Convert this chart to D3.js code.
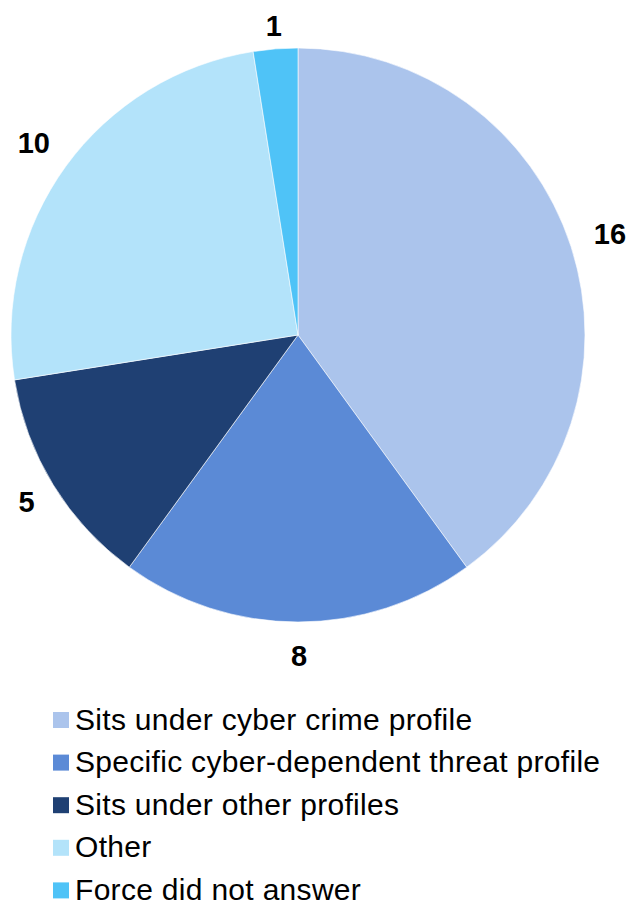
<!DOCTYPE html>
<html lang="en">
<head>
    <meta charset="UTF-8">
    <title>Cyber profile pie</title>
    <script src="https://cdn.jsdelivr.net/npm/d3@7"></script>
    <style>
        body { margin: 0; background: #fff; }
        text { font-family: "Liberation Sans", Arial, sans-serif; fill: #000; }
    </style>
</head>
<body>
    <script>
        const categories = ['Sits under cyber crime profile', 'Specific cyber-dependent threat profile',
            'Sits under other profiles', 'Other', 'Force did not answer'];
        const values = [16, 8, 5, 10, 1];
        const colors = ['#abc4ec', '#5b8ad6', '#1f4073', '#b3e3fa', '#4fc3f7'];

        const width = 630, height = 903;
        const cx = 298, cy = 335, r = 287;
        const data = categories.map((c, i) => ({name: c, value: values[i], color: colors[i]}));

        const svg = d3.select('body').append('svg').attr('width', width).attr('height', height);
        const g = svg.append('g').attr('transform', `translate(${cx},${cy})`);

        const pie = d3.pie().value(d => d.value).sort(null);
        const arcs = pie(data);
        const arc = d3.arc().innerRadius(0).outerRadius(r);

        g.selectAll('path').data(arcs).enter().append('path')
            .attr('d', arc)
            .attr('fill', d => d.data.color)
            .attr('stroke', '#fff')
            .attr('stroke-width', 0.6);

        // value labels outside the slice end
        const gap = 23;
        const labels = g.selectAll('text.val').data(arcs).enter().append('text')
            .attr('class', 'val')
            .attr('text-anchor', 'middle')
            .style('font-size', '29px')
            .style('font-weight', 'bold')
            .text(d => d.data.value);
        labels.each(function(d) {
            const bb = this.getBBox();
            const hw = bb.width / 2, hh = 10.5;
            const a = (d.startAngle + d.endAngle) / 2;
            const s = Math.sin(a), c = Math.cos(a);
            const off = Math.min(Math.abs(s) > 1e-6 ? hw / Math.abs(s) : Infinity, Math.abs(c) > 1e-6 ? hh / Math.abs(c) : Infinity);
            const R = r + gap + off;
            let x = R * s, y = -R * c;
            y = Math.max(y, -cy + 15 + hh); // keep inside the chart area
            d3.select(this).attr('x', x + 1).attr('y', y + hh);
        });

        // legend
        const legend = svg.append('g').attr('transform', 'translate(53,720)');
        const rowH = 42.6;
        const rows = legend.selectAll('g').data(data).enter().append('g')
            .attr('transform', (d, i) => `translate(0,${i * rowH})`);
        rows.append('rect').attr('x', 0).attr('y', -8).attr('width', 16).attr('height', 16)
            .attr('fill', d => d.color);
        rows.append('text').attr('x', 22).attr('y', 9.5)
            .style('font-size', '30px')
            .style('letter-spacing', '0.3px')
            .text(d => d.name);
    </script>
</body>
</html>
